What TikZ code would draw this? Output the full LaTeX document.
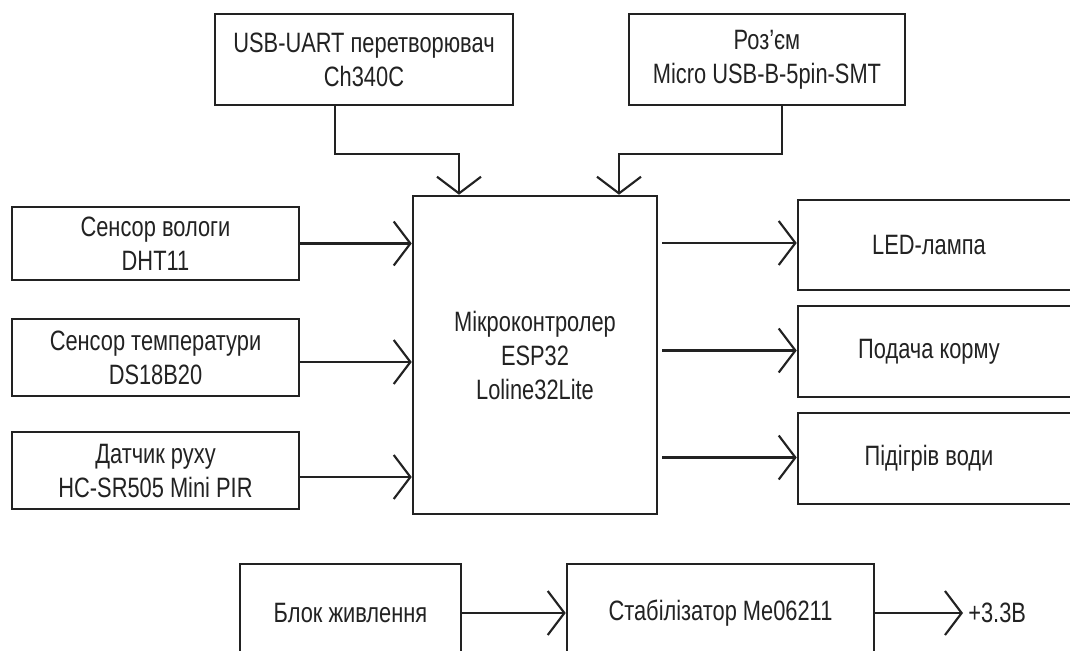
\documentclass[tikz,border=0pt]{standalone}
\usepackage{fontspec}
\setmainfont{Liberation Sans}[FakeStretch=0.78]
\usetikzlibrary{arrows.meta,calc}
\definecolor{ink}{HTML}{222222}
\newdimen\pxu \pxu=0.75pt
\begin{document}
\begin{tikzpicture}[x=0.75pt,y=-0.75pt,
  box/.style={draw=ink, line width=1.9pt, inner sep=0pt, align=center,
    text=ink, font=\fontsize{21}{25.5}\selectfont},
  lbl/.style={inner sep=0pt, align=center, text=ink, font=\fontsize{21}{25.5}\selectfont},
  arr/.style={draw=ink, line width=1.6pt,
    -{Straight Barb[length=12.5pt, width=33pt, line width=1.6pt]}}]
\clip (0,0) rectangle (1070,650);
\fill[white] (0,0) rectangle (1070,650);

% top boxes
\node[box, minimum width=298\pxu, minimum height=91\pxu] (uart) at (364,59.5)
  {USB-UART перетворювач\\Ch340C};
\node[box, minimum width=276\pxu, minimum height=91\pxu] (roz) at (767,59.5)
  {Роз’єм\\Micro USB-B-5pin-SMT};

% microcontroller
\node[box, minimum width=244\pxu, minimum height=318\pxu] (mcu) at (535,355)
  {Мікроконтролер\\ESP32\\Loline32Lite};

% sensors
\node[box, minimum width=287\pxu, minimum height=73\pxu] (hum) at (155.5,243.5)
  {Сенсор вологи\\DHT11};
\node[box, minimum width=287\pxu, minimum height=77\pxu] (temp) at (155.5,357.5)
  {Сенсор температури\\DS18B20};
\node[box, minimum width=287\pxu, minimum height=77\pxu] (mot) at (155.5,470.5)
  {Датчик руху\\HC-SR505 Mini PIR};

% outputs (cut by right edge)
\node[box, minimum width=282\pxu, minimum height=90\pxu] (led) at (939,245) {};
\node[lbl] (ledt) at (929,245) {LED-лампа};
\node[box, minimum width=282\pxu, minimum height=91\pxu] (feed) at (939,351.5) {};
\node[lbl] (feedt) at (929,351.5) {Подача корму};
\node[box, minimum width=282\pxu, minimum height=91\pxu] (heat) at (939,458.5) {};
\node[lbl] (heatt) at (929,458.5) {Підігрів води};

% power (cut by bottom edge)
\node[box, minimum width=221\pxu, minimum height=98\pxu] (psu) at (350.5,613)
  {Блок живлення};
\node[box, minimum width=307\pxu, minimum height=98\pxu] (stab) at (720.5,613)
  {Стабілізатор Me06211};
\coordinate (vout) at (963,613);
\node[lbl, anchor=west] (voutt) at (968,613) {+3.3В};

% connectors
\draw[arr] ([xshift=-29\pxu]uart.south) -- ++(0,48) -| ([xshift=-76\pxu]mcu.north);
\draw[arr] ([xshift=15\pxu]roz.south) -- ++(0,48) -| ([xshift=84\pxu]mcu.north);

\draw[arr] (hum.east) -- (hum.east -| mcu.west);
\draw[arr] ([yshift=-4.5\pxu]temp.east) -- ([yshift=-4.5\pxu]temp.east -| mcu.west);
\draw[arr] ([yshift=-6.5\pxu]mot.east) -- ([yshift=-6.5\pxu]mot.east -| mcu.west);

\draw[arr] ($(mcu.east |- led.west)+(4,-2)$) -- ($(led.west)+(0,-2)$);
\draw[arr] ($(mcu.east |- feed.west)+(4,-1)$) -- ($(feed.west)+(0,-1)$);
\draw[arr] ($(mcu.east |- heat.west)+(4,-1)$) -- ($(heat.west)+(0,-1)$);

\draw[arr] (psu.east) -- (stab.west);
\draw[arr] (stab.east) -- (vout);
\end{tikzpicture}
\end{document}
